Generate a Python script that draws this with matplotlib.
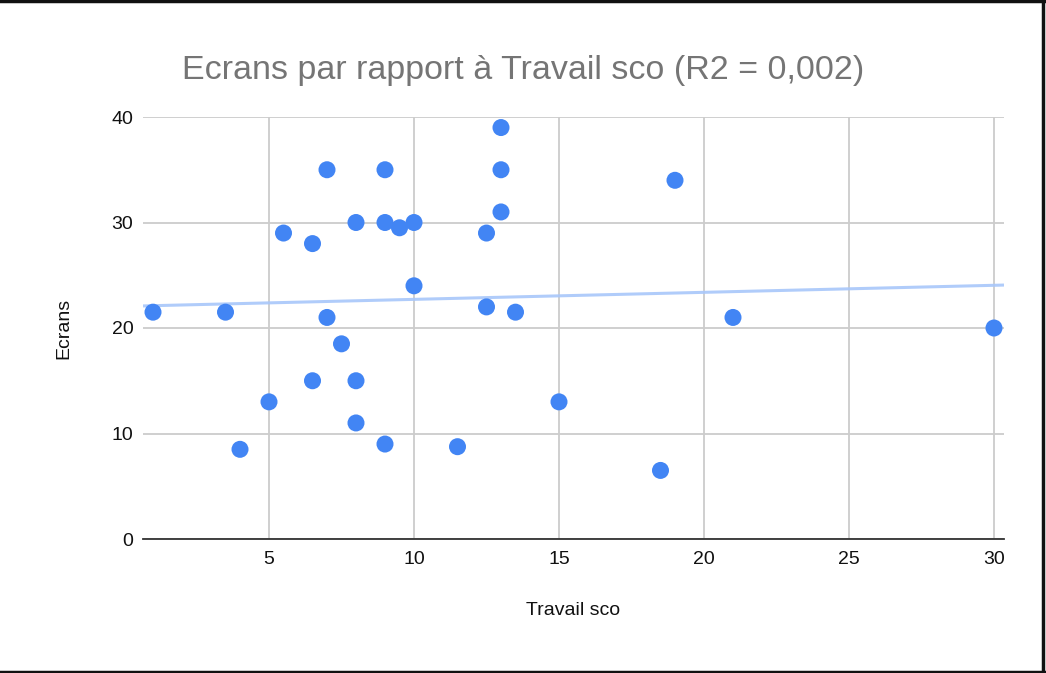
import numpy as np
import matplotlib
matplotlib.use("Agg")
import matplotlib.pyplot as plt
from matplotlib.lines import Line2D

plt.rcParams['font.family'] = ['Liberation Sans', 'DejaVu Sans']

travail_sco = [1, 3.5, 4, 5, 5.5, 6.5, 6.5, 7, 7, 7.5, 8, 8, 8, 9, 9, 9, 9.5, 10, 10,
               11.5, 12.5, 12.5, 13, 13, 13, 13.5, 15, 18.5, 19, 21, 30]
ecrans = [21.5, 21.5, 8.5, 13, 29, 28, 15, 35, 21, 18.5, 30, 15, 11, 35, 30, 9, 29.5, 30, 24,
          8.75, 29, 22, 39, 35, 31, 21.5, 13, 6.5, 34, 21, 20]
x_ticks = [5, 10, 15, 20, 25, 30]
y_ticks = [0, 10, 20, 30, 40]
title = "Ecrans par rapport à Travail sco (R2 = 0,002)"

fig = plt.figure(figsize=(10.46, 6.73), dpi=100)
ax = fig.add_axes([143/1046, 1-539/673, (1004-143)/1046, (539-117)/673])

xmin, xmax = 0.655, 30.345
ax.set_xlim(xmin, xmax)
ax.set_ylim(0, 40)

# trendline
slope, intercept = np.polyfit(travail_sco, ecrans, 1)
xs = np.array([xmin, xmax])
ax.plot(xs, slope*xs + intercept, color='#a8c7fa', lw=2.2, alpha=0.9, zorder=2, solid_capstyle='butt')

ax.scatter(travail_sco, ecrans, s=150, color='#4285f4', edgecolors='none', zorder=3, clip_on=False)

ax.set_xticks(x_ticks)
ax.set_yticks(y_ticks)
ax.grid(True, color='#cccccc', lw=1.3, zorder=0)
ax.set_axisbelow(True)
for s in ['top', 'right', 'left']:
    ax.spines[s].set_visible(False)
ax.spines['bottom'].set_color('#333333')
ax.spines['bottom'].set_linewidth(1.3)
ax.spines['bottom'].set_zorder(4)
ax.tick_params(axis='both', length=0, labelsize=14, labelcolor='#111111')
ax.tick_params(axis='x', pad=9)
ax.tick_params(axis='y', pad=7)

ax.set_xlabel("Travail sco", fontsize=14, color='#111111', labelpad=24)
ax.set_ylabel("Ecrans", fontsize=14, color='#111111', labelpad=28)

fig.text(0.5, 1-70/673, title, ha='center', va='center', fontsize=24.5, color='#757575')

# border (top, right, bottom)
fig.add_artist(Line2D([0, 1], [1-1/673, 1-1/673], transform=fig.transFigure, color='#111111', lw=2.5))
fig.add_artist(Line2D([1-3/1046, 1-3/1046], [0, 1], transform=fig.transFigure, color='#111111', lw=2.5))
fig.add_artist(Line2D([0, 1], [1/673, 1/673], transform=fig.transFigure, color='#111111', lw=2.5))

fig.savefig("out.png", dpi=100)
